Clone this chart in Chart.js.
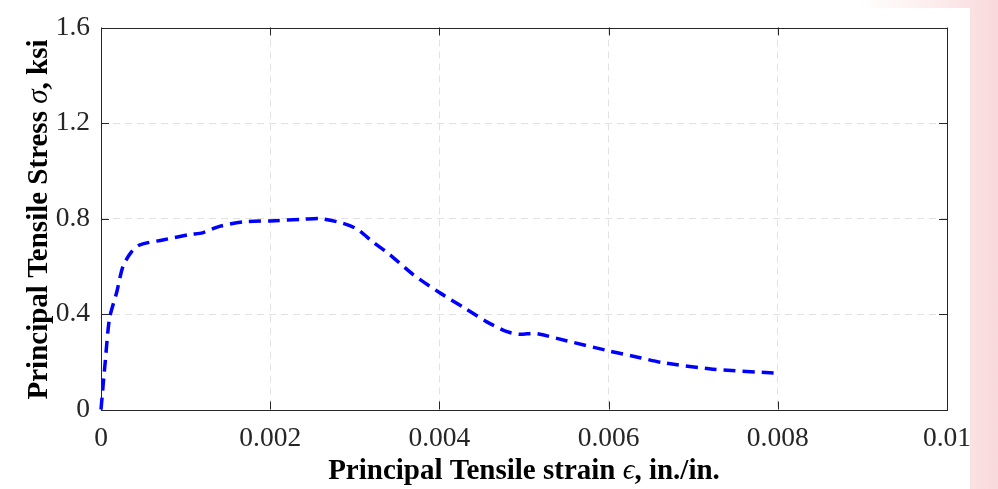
<!DOCTYPE html>
<html>
<head>
<meta charset="utf-8">
<script src="https://cdn.jsdelivr.net/npm/chart.js@4"></script>
<style>
  html, body { margin: 0; padding: 0; }
  body {
    width: 998px; height: 489px; overflow: hidden; position: relative;
    background: linear-gradient(to right, #ffffff 0%, #ffffff 86%, #fdeeee 93%, #f9d9db 100%);
  }
  #panel { position: absolute; left: 0; top: 8px; width: 970px; height: 481px; background: #fff; }
  #chart { position: absolute; left: 0; top: 0; }
</style>
</head>
<body>
<div id="panel"></div>
<canvas id="chart" width="998" height="489"></canvas>
<script>
// strain (in./in.) and stress (ksi)
const strain = [0, 0.00005, 0.0001, 0.000185, 0.00026, 0.00036, 0.00046, 0.00073, 0.00105, 0.0012,
  0.0014, 0.00168, 0.002, 0.00239, 0.00259, 0.00286, 0.00302, 0.00322, 0.00342, 0.00369,
  0.004, 0.00428, 0.00456, 0.0048, 0.00495, 0.0051, 0.00519, 0.0055, 0.00602, 0.00637,
  0.00664, 0.00723, 0.00803];
const stress = [0, 0.2, 0.38, 0.49, 0.6, 0.66, 0.69, 0.71, 0.733, 0.74,
  0.767, 0.786, 0.79, 0.797, 0.8, 0.78, 0.757, 0.7, 0.647, 0.565,
  0.49, 0.429, 0.367, 0.326, 0.315, 0.319, 0.315, 0.288, 0.244, 0.217,
  0.196, 0.169, 0.151];

const xTicks = [0, 0.002, 0.004, 0.006, 0.008, 0.01];
const yTicks = [0, 0.4, 0.8, 1.2, 1.6];

// axis titles as pieces so the greek letters can be italic
const xTitle = [['Principal Tensile strain ', 'b'], ['ϵ', 'i'], [', in./in.', 'b']];
const yTitle = [['Principal Tensile Stress ', 'b'], ['σ', 'i'], [', ksi', 'b']];

const serif = "'Liberation Serif', 'Times New Roman', serif";
const boxColor = '#262626';
const titleSize = 29;

const gridColor = ctx => (ctx.index === 0 || ctx.index === ctx.scale.ticks.length - 1)
  ? 'rgba(0,0,0,0)' : '#e2e2e2';

const pieceFont = k => (k === 'b' ? 'bold ' : 'italic ') + titleSize + 'px ' + serif;

function drawPieces(ctx, pieces, cx, baseline) {
  let total = 0;
  pieces.forEach(p => { ctx.font = pieceFont(p[1]); total += ctx.measureText(p[0]).width; });
  let x = cx - total / 2;
  ctx.textAlign = 'left';
  ctx.textBaseline = 'alphabetic';
  pieces.forEach(p => {
    ctx.font = pieceFont(p[1]);
    ctx.fillText(p[0], x, baseline);
    x += ctx.measureText(p[0]).width;
  });
}

// box around plot area with inward ticks on all four sides, plus axis titles
const boxTicks = {
  id: 'boxTicks',
  afterDraw(chart) {
    const {ctx, chartArea: a, scales: {x, y}} = chart;
    const len = 8;
    ctx.save();
    ctx.strokeStyle = boxColor;
    ctx.lineWidth = 1;
    ctx.beginPath();
    x.ticks.forEach(t => {
      const px = Math.round(x.getPixelForValue(t.value)) + 0.5;
      ctx.moveTo(px, a.bottom); ctx.lineTo(px, a.bottom - len);
      ctx.moveTo(px, a.top); ctx.lineTo(px, a.top + len);
    });
    y.ticks.forEach(t => {
      const py = Math.round(y.getPixelForValue(t.value)) + 0.5;
      ctx.moveTo(a.left, py); ctx.lineTo(a.left + len, py);
      ctx.moveTo(a.right, py); ctx.lineTo(a.right - len, py);
    });
    ctx.stroke();
    ctx.strokeRect(Math.round(a.left) + 0.5, Math.round(a.top) + 0.5,
      Math.round(a.right - a.left), Math.round(a.bottom - a.top));

    ctx.fillStyle = '#000';
    drawPieces(ctx, xTitle, (a.left + a.right) / 2, 479);
    ctx.translate(46.5, (a.top + a.bottom) / 2 + 1);
    ctx.rotate(-Math.PI / 2);
    drawPieces(ctx, yTitle, 0, 0);
    ctx.restore();
  }
};

new Chart(document.getElementById('chart'), {
  type: 'line',
  data: {
    datasets: [{
      data: strain.map((s, i) => ({x: s, y: stress[i]})),
      borderColor: '#0000ff',
      borderWidth: 3.5,
      borderDash: [12, 7],
      pointRadius: 0,
      tension: 0.25,
      fill: false,
      clip: 4
    }]
  },
  options: {
    responsive: false,
    animation: false,
    layout: { padding: { left: 0, right: 51, top: 19.5, bottom: 0 } },
    plugins: { legend: { display: false }, tooltip: { enabled: false } },
    scales: {
      x: {
        type: 'linear',
        min: 0, max: 0.01,
        afterBuildTicks: s => { s.ticks = xTicks.map(v => ({value: v})); },
        afterFit: s => { s.height = 79.5; },
        grid: { color: gridColor, drawTicks: false },
        border: { display: false, dash: [7, 5] },
        ticks: {
          padding: 13,
          color: '#262626',
          maxRotation: 0,
          font: { family: serif, size: 27.5 },
          callback: v => String(v)
        }
      },
      y: {
        min: 0, max: 1.6,
        afterBuildTicks: s => { s.ticks = yTicks.map(v => ({value: v})); },
        afterFit: s => { s.width = 101; },
        grid: { color: gridColor, drawTicks: false },
        border: { display: false, dash: [7, 5] },
        ticks: {
          padding: 11,
          color: '#262626',
          font: { family: serif, size: 27.5 },
          callback: v => String(v)
        }
      }
    }
  },
  plugins: [boxTicks]
});
</script>
</body>
</html>
